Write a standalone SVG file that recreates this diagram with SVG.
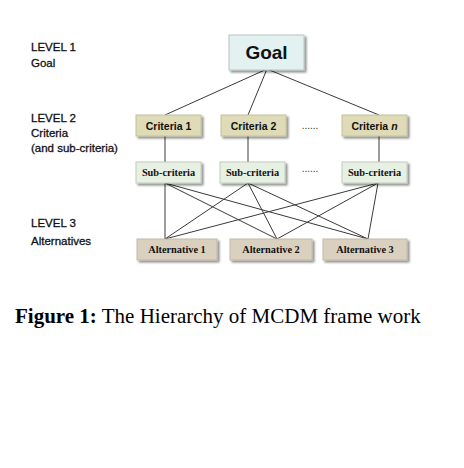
<svg xmlns="http://www.w3.org/2000/svg" width="464" height="468" viewBox="0 0 464 468">
<defs>
<filter id="sh" x="-10%" y="-20%" width="130%" height="160%">
<feGaussianBlur in="SourceAlpha" stdDeviation="0.8"/>
<feOffset dx="2" dy="2" result="b"/>
<feComponentTransfer><feFuncA type="linear" slope="0.45"/></feComponentTransfer>
<feMerge><feMergeNode/><feMergeNode in="SourceGraphic"/></feMerge>
</filter>
</defs>
<style>
.lvl{font-family:"Liberation Sans",Arial,sans-serif;font-size:11.5px;fill:#111;stroke:#111;stroke-width:0.3}
.goal{fill:#e3f1f1;stroke:#b8c4c4;stroke-width:1}
.crit{fill:#dedbb6;stroke:#c4c0a0;stroke-width:1}
.sub{fill:#e7f1e3;stroke:#c0ccbc;stroke-width:1}
.alt{fill:#dad0bf;stroke:#c2b8a8;stroke-width:1}
.ts{font-family:"Liberation Sans",Arial,sans-serif;font-weight:bold;fill:#111;text-anchor:middle}
.tt{font-family:"Liberation Serif","Times New Roman",serif;font-weight:bold;fill:#111;text-anchor:middle;font-size:10.3px}
.dots{font-family:"Liberation Sans",Arial,sans-serif;font-size:10px;fill:#333;text-anchor:middle}
.cap{font-family:"Liberation Serif","Times New Roman",serif;font-size:21px;fill:#000}
#connectors line{stroke:#3a3a3a;stroke-width:1}
</style>
<rect width="464" height="468" fill="#fff"/>
<g id="level-labels">
<text class="lvl" x="31" y="51">LEVEL 1</text>
<text class="lvl" x="31" y="67">Goal</text>
<text class="lvl" x="31" y="122">LEVEL 2</text>
<text class="lvl" x="31" y="137">Criteria</text>
<text class="lvl" x="31" y="152">(and sub-criteria)</text>
<text class="lvl" x="31" y="227">LEVEL 3</text>
<text class="lvl" x="31" y="245">Alternatives</text>
</g>
<g id="connectors">
<line x1="267" y1="69" x2="165" y2="115"/>
<line x1="267" y1="69" x2="248" y2="115"/>
<line x1="267" y1="69" x2="379" y2="115"/>
<line x1="165" y1="136" x2="165" y2="162"/>
<line x1="248" y1="136" x2="248" y2="162"/>
<line x1="379" y1="136" x2="379" y2="162"/>
<line x1="165" y1="183" x2="165" y2="239"/>
<line x1="165" y1="183" x2="277" y2="239"/>
<line x1="165" y1="183" x2="368" y2="239"/>
<line x1="248" y1="183" x2="165" y2="239"/>
<line x1="248" y1="183" x2="277" y2="239"/>
<line x1="248" y1="183" x2="368" y2="239"/>
<line x1="378" y1="183" x2="165" y2="239"/>
<line x1="378" y1="183" x2="277" y2="239"/>
<line x1="378" y1="183" x2="368" y2="239"/>
</g>
<g id="goal">
<rect class="goal" x="229" y="35" width="75" height="35" filter="url(#sh)"/>
<text class="ts" x="266.5" y="59" font-size="19">Goal</text>
</g>
<g id="criteria-1">
<rect class="crit" x="136" y="115" width="65" height="21" filter="url(#sh)"/>
<text class="ts" x="168.5" y="129.5" font-size="10.5">Criteria 1</text>
</g>
<g id="criteria-2">
<rect class="crit" x="221" y="115" width="65" height="21" filter="url(#sh)"/>
<text class="ts" x="253.5" y="129.5" font-size="10.5">Criteria 2</text>
</g>
<text class="dots" x="310" y="129">......</text>
<g id="criteria-n">
<rect class="crit" x="342" y="115" width="65" height="21" filter="url(#sh)"/>
<text class="ts" x="374.5" y="129.5" font-size="10.5">Criteria <tspan font-style="italic">n</tspan></text>
</g>
<g id="sub-criteria-1">
<rect class="sub" x="136" y="162" width="65" height="21" filter="url(#sh)"/>
<text class="tt" x="168.5" y="176">Sub-criteria</text>
</g>
<g id="sub-criteria-2">
<rect class="sub" x="220" y="162" width="65" height="21" filter="url(#sh)"/>
<text class="tt" x="252.5" y="176">Sub-criteria</text>
</g>
<text class="dots" x="310" y="172">......</text>
<g id="sub-criteria-3">
<rect class="sub" x="342" y="162" width="65" height="21" filter="url(#sh)"/>
<text class="tt" x="374.5" y="176">Sub-criteria</text>
</g>
<g id="alternative-1">
<rect class="alt" x="137" y="239" width="80" height="21" filter="url(#sh)"/>
<text class="tt" x="177" y="253">Alternative 1</text>
</g>
<g id="alternative-2">
<rect class="alt" x="230" y="239" width="82" height="21" filter="url(#sh)"/>
<text class="tt" x="271" y="253">Alternative 2</text>
</g>
<g id="alternative-3">
<rect class="alt" x="323" y="239" width="84" height="21" filter="url(#sh)"/>
<text class="tt" x="365" y="253">Alternative 3</text>
</g>
<text class="cap" x="15" y="323"><tspan font-weight="bold">Figure 1:</tspan> The Hierarchy of MCDM frame work</text>
</svg>
